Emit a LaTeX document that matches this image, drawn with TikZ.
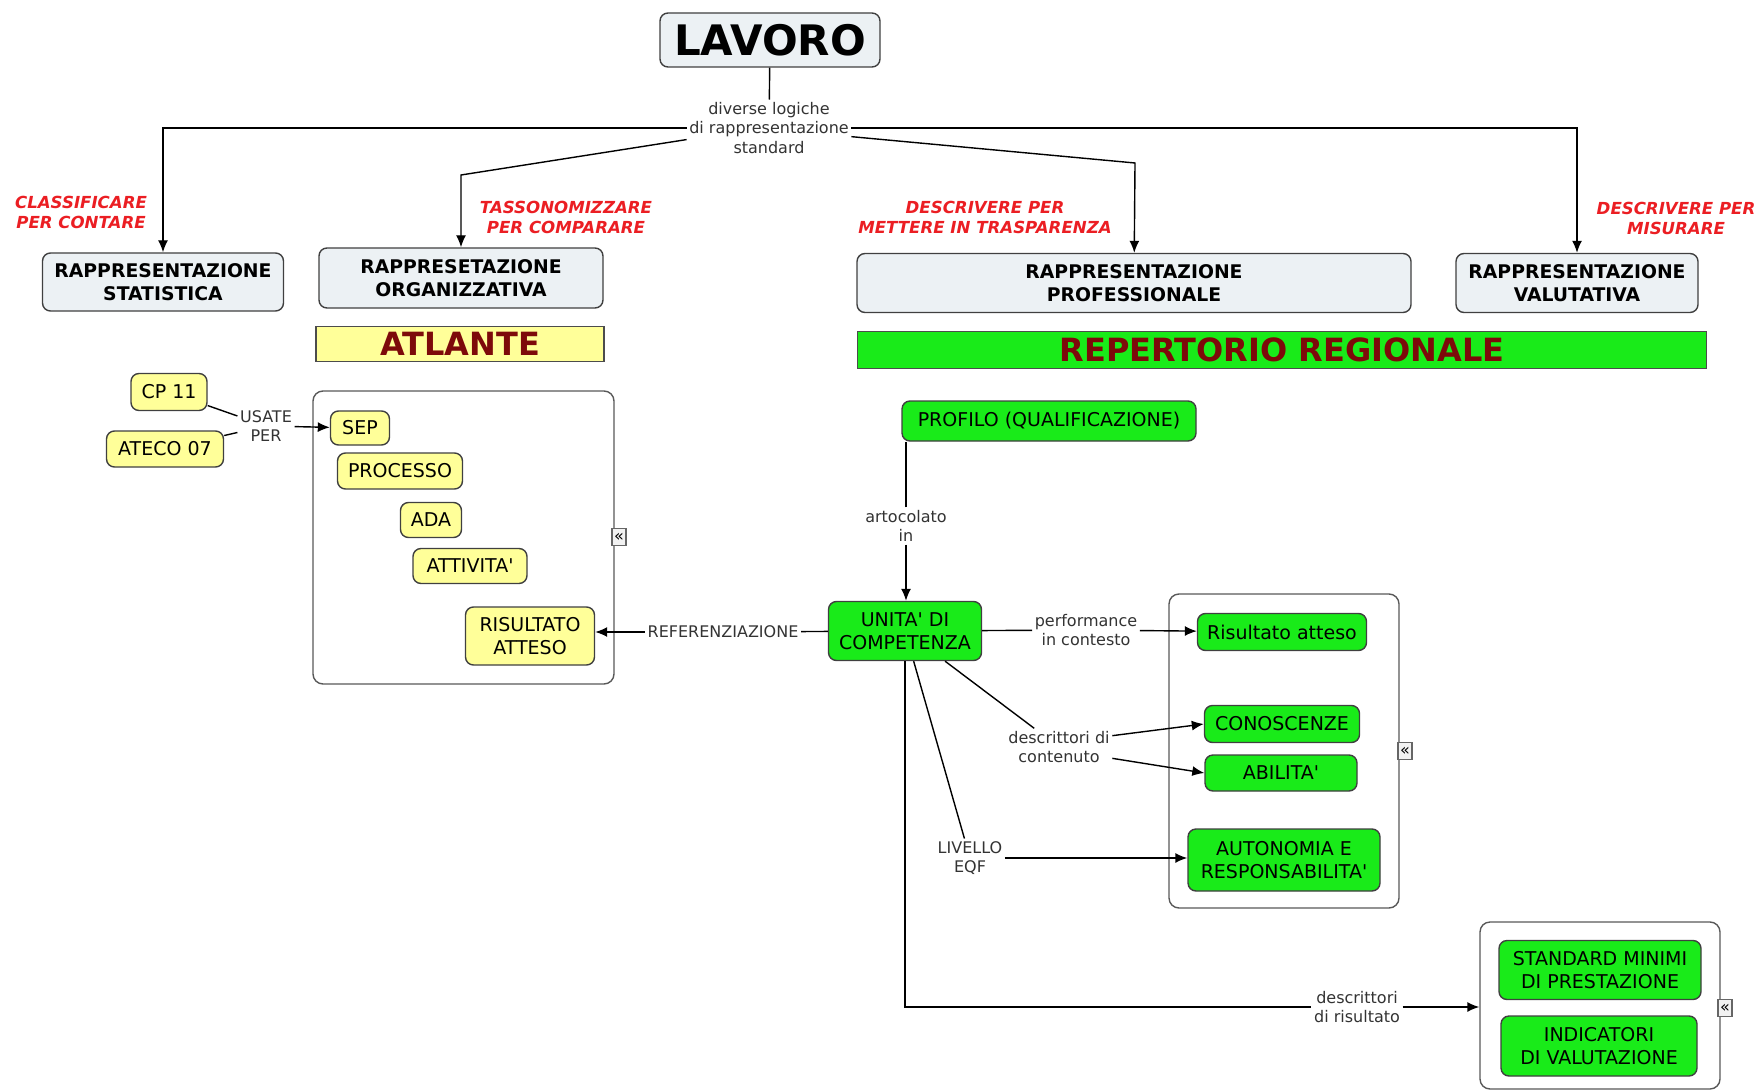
\documentclass[tikz,border=0pt]{standalone}
\usepackage{fontspec}
\setmainfont{DejaVu Sans}[Ligatures=TeXOff]
\usetikzlibrary{arrows.meta}
\definecolor{grigio}{RGB}{236,241,244}
\definecolor{giallo}{RGB}{255,255,153}
\definecolor{verde}{RGB}{25,235,25}
\definecolor{rosso}{RGB}{235,30,35}
\definecolor{bordeaux}{RGB}{125,10,10}
\newcommand\testo{\fontsize{9.5}{11.7}\selectfont}
\newcommand\frasetta{\fontsize{8}{9.8}\selectfont}

\begin{document}
\begin{tikzpicture}[x=0.5pt,y=-0.5pt,line width=.7pt,>={Latex[length=6pt,width=5pt]},
  rappr/.style={draw=black!75,fill=grigio,rounded corners=4pt,align=center,font=\bfseries\fontsize{9.4}{11.7}\selectfont},
  gialla/.style={draw=black!75,fill=giallo,rounded corners=4pt,align=center,font=\testo,inner sep=1pt},
  verdina/.style={draw=black!75,fill=verde,rounded corners=4pt,align=center,font=\testo,inner sep=1pt},
  frase/.style={fill=white,inner sep=1pt,align=center,font=\frasetta,text=black!80},
  motto/.style={text=rosso,align=center,font=\bfseries\itshape\fontsize{8.3}{10}\selectfont},
  gruppo/.style={draw=black!65,fill=white,rounded corners=5pt},
  chiudi/.style={draw=black!60,fill=black!5,inner sep=0pt,minimum width=7pt,minimum height=8.5pt,font=\fontsize{8}{8}\selectfont}]
\useasboundingbox (0,0) rectangle (1755,1091);
%% contenitori
\node[gruppo,minimum width=150.5pt,minimum height=146.5pt] (atlbox) at (463.5,537.5) {};
\node[gruppo,minimum width=115pt,minimum height=157pt] (compbox) at (1284,751) {};
\node[gruppo,minimum width=120pt,minimum height=83.5pt] (valbox) at (1600,1005.5) {};
%% radice
\node[rappr,font=\bfseries\fontsize{21}{24}\selectfont,minimum width=110pt,minimum height=27pt] (lavoro) at (770,40) {LAVORO};
\node[frase] (logiche) at (769,128) {diverse logiche\\di rappresentazione\\standard};
%% rappresentazioni
\begin{scope}[every node/.append style={rappr}]
\node[minimum width=120.5pt,minimum height=29pt] (statistica) at (163,282) {RAPPRESENTAZIONE\\STATISTICA};
\node[minimum width=142pt,minimum height=30pt] (organizzativa) at (461,278) {RAPPRESETAZIONE\\ORGANIZZATIVA};
\node[minimum width=277pt,minimum height=29.5pt] (professionale) at (1134,283) {RAPPRESENTAZIONE\\PROFESSIONALE};
\node[minimum width=121pt,minimum height=29.5pt] (valutativa) at (1577,283) {RAPPRESENTAZIONE\\VALUTATIVA};
\end{scope}
\node[motto] (classificare) at (81,212) {CLASSIFICARE\\PER CONTARE};
\node[motto] (tassonomizzare) at (566,217) {TASSONOMIZZARE\\PER COMPARARE};
\node[motto] (trasparenza) at (985,217) {DESCRIVERE PER\\METTERE IN TRASPARENZA};
\node[motto] (misurare) at (1676,218) {DESCRIVERE PER\\MISURARE};
%% barre
\node[draw=black!70,fill=giallo,minimum width=144pt,minimum height=17.5pt,inner sep=0pt,text=bordeaux,font=\bfseries\fontsize{16}{16}\selectfont] (atlante) at (460,344) {ATLANTE};
\node[draw=black!70,fill=verde,minimum width=424.5pt,minimum height=18.5pt,inner sep=0pt,text=bordeaux,font=\bfseries\fontsize{16}{16}\selectfont] (repertorio) at (1282,350) {REPERTORIO REGIONALE};
%% atlante
\begin{scope}[every node/.append style={gialla}]
\node[minimum width=38pt,minimum height=18.5pt] (cp) at (169,392) {CP 11};
\node[minimum width=58.5pt,minimum height=18pt] (ateco) at (165,449) {ATECO 07};
\node[minimum width=29.5pt,minimum height=17pt] (sep) at (360,428) {SEP};
\node[minimum width=62.5pt,minimum height=18pt] (processo) at (400,471) {PROCESSO};
\node[minimum width=30.5pt,minimum height=17.5pt] (ada) at (431,520) {ADA};
\node[minimum width=57pt,minimum height=17.5pt] (attivita) at (470,566) {ATTIVITA'};
\node[minimum width=64.5pt,minimum height=29pt] (risatteso) at (530,636) {RISULTATO\\ATTESO};
\end{scope}
\node[frase] (usate) at (266,426) {USATE\\PER};
%% repertorio
\begin{scope}[every node/.append style={verdina}]
\node[minimum width=147pt,minimum height=20pt] (profilo) at (1049,421) {PROFILO (QUALIFICAZIONE)};
\node[minimum width=76.5pt,minimum height=29.5pt] (unita) at (905,631) {UNITA' DI\\COMPETENZA};
\node[minimum width=84.5pt,minimum height=18.5pt] (risultato) at (1282,632) {Risultato atteso};
\node[minimum width=77.5pt,minimum height=18.5pt] (conoscenze) at (1282,724) {CONOSCENZE};
\node[minimum width=76pt,minimum height=18pt] (abilita) at (1281,773) {ABILITA'};
\node[minimum width=96pt,minimum height=31pt] (autonomia) at (1284,860) {AUTONOMIA E\\RESPONSABILITA'};
\node[minimum width=101pt,minimum height=29.5pt] (standard) at (1600,970) {STANDARD MINIMI\\DI PRESTAZIONE};
\node[minimum width=98pt,minimum height=30pt] (indicatori) at (1599,1046) {INDICATORI\\DI VALUTAZIONE};
\end{scope}
\node[frase] (artic) at (906,526) {artocolato\\in};
\node[frase] (referenz) at (723,632) {REFERENZIAZIONE};
\node[frase] (perf) at (1086,630) {performance\\in contesto};
\node[frase] (contenuto) at (1059,747) {descrittori di\\contenuto};
\node[frase] (eqf) at (970,858) {LIVELLO\\EQF};
\node[frase] (drisult) at (1357,1007) {descrittori\\di risultato};
%% icone
\node[chiudi] (chiudi1) at (619,537) {«};
\node[chiudi] (chiudi2) at (1405,751) {«};
\node[chiudi] (chiudi3) at (1725,1008) {«};
%% collegamenti
\coordinate (gomito1) at (461,175);
\coordinate (gomito2) at (1135,163);
\draw (lavoro) -- (logiche);
\draw[->] (logiche.west) -| (statistica);
\draw[->] (logiche.188) -- (gomito1) -- (organizzativa);
\draw[->] (logiche.354) -- (gomito2) -- (professionale);
\draw[->] (logiche.east) -| (valutativa);
\draw (cp) -- (usate);
\draw (ateco) -- (usate);
\draw[->] (usate) -- (sep);
\draw (artic) -- (artic |- profilo.south);
\draw[->] (artic) -- (artic |- unita.north);
\draw (unita) -- (referenz);
\draw[->] (referenz) -- (referenz -| risatteso.east);
\draw (unita) -- (perf);
\draw[->] (perf) -- (risultato);
\draw (unita) -- (contenuto);
\draw[->] (contenuto.12) -- (conoscenze.west);
\draw[->] (contenuto.-12) -- (abilita.west);
\draw (unita) -- (eqf);
\draw[->] (eqf) -- (eqf -| autonomia.west);
\draw (unita) |- (drisult.west);
\draw[->] (drisult.east) -- (drisult.east -| valbox.west);
\end{tikzpicture}
\end{document}
